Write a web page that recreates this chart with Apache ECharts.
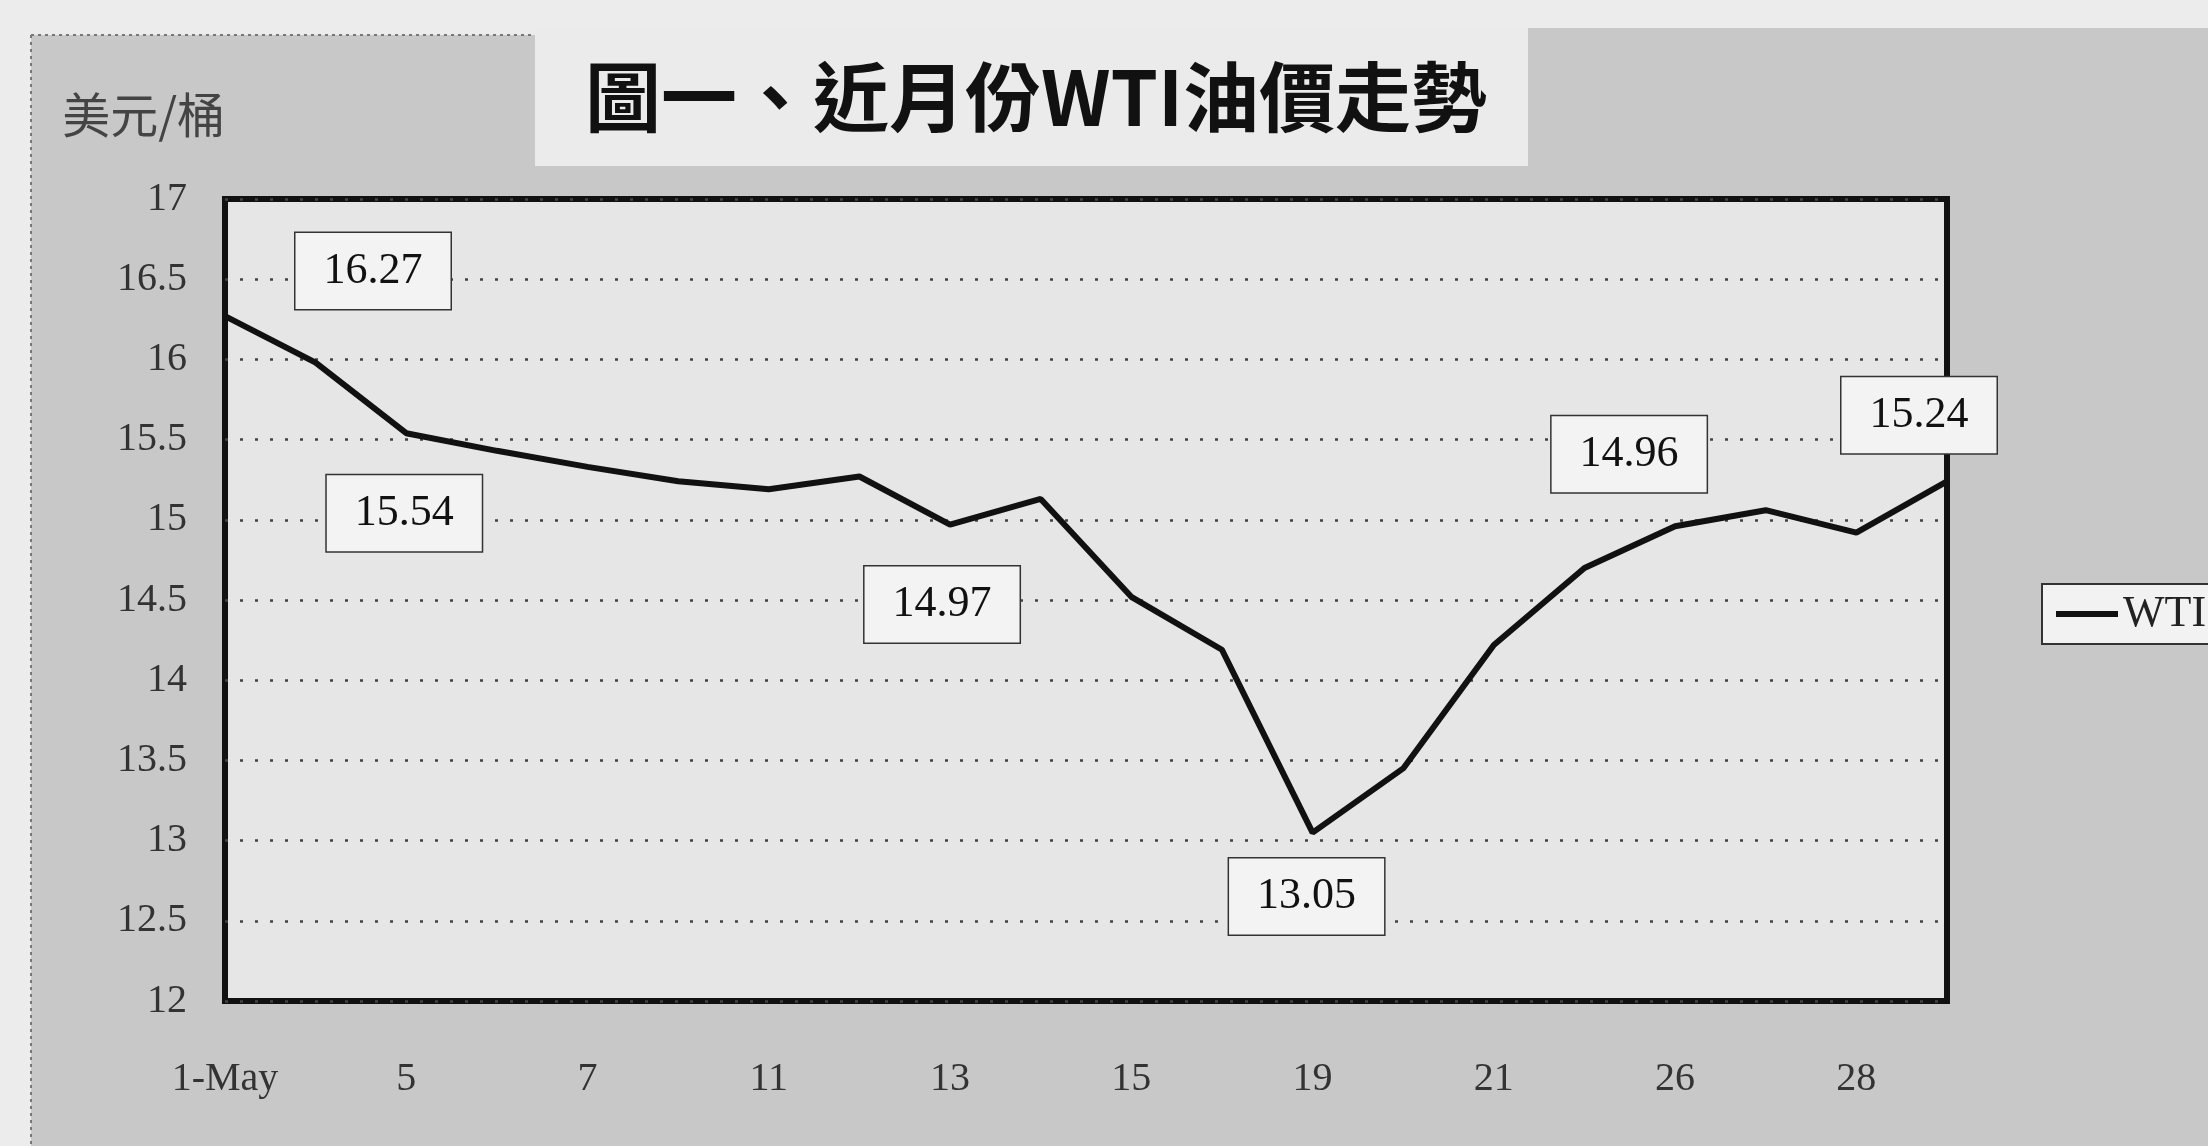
<!DOCTYPE html>
<html>
<head>
<meta charset="utf-8">
<script src="https://cdn.jsdelivr.net/npm/echarts@6/dist/echarts.min.js"></script>
<style>
html,body{margin:0;padding:0;background:#ececec;}
#c{width:2208px;height:1146px;}
</style>
</head>
<body>
<div id="c"></div>
<script>
// ---- data ----
const titleText = '圖一、近月份WTI油價走勢';
const yUnit = '美元/桶';
const seriesName = 'WTI';
const categories = ['1-May','4','5','6','7','8','11','12','13','14','15','18','19','20','21','22','26','27','28','29'];
const wti = [16.27,15.98,15.54,15.43,15.33,15.24,15.19,15.27,14.97,15.13,14.52,14.19,13.05,13.45,14.22,14.70,14.96,15.06,14.92,15.24];
const labeledIdx = [0,2,8,12,16,19];
const yMin = 12, yMax = 17, yStep = 0.5;

// ---- layout / style ----
const labelOffsets = {0:[148,-45],2:[-2,80],8:[-8,80],12:[-6,64],16:[-46,-72],19:[-28,-66]};
const serif = '"Liberation Serif","DejaVu Serif",serif';
const cjk = '"Noto Sans CJK TC","Noto Sans CJK SC",sans-serif';

const seriesData = wti.map((v,i)=>{
  if (labeledIdx.indexOf(i) < 0) return v;
  return {
    value: v,
    label: {
      show: true,
      position: 'inside',
      offset: labelOffsets[i],
      formatter: (p)=>Number(p.value).toFixed(2),
      fontFamily: serif,
      fontSize: 44,
      color: '#111',
      backgroundColor: '#f3f3f3',
      borderColor: '#333',
      borderWidth: 1.5,
      padding: [17, 28, 15, 28]
    }
  };
});

const chart = echarts.init(document.getElementById('c'));
chart.setOption({
  backgroundColor: '#ececec',
  animation: false,
  graphic: [
    {type:'rect', z:-10, shape:{x:31,y:35,width:2208,height:1146}, style:{fill:'#c8c8c8'}},
    {type:'rect', z:-10, shape:{x:1528,y:28,width:700,height:40}, style:{fill:'#c8c8c8'}},
    {type:'rect', z:-9, shape:{x:535,y:28,width:993,height:138}, style:{fill:'#ebebeb'}},
    {type:'line', z:-8, shape:{x1:31,y1:35,x2:535,y2:35}, style:{stroke:'#777',lineWidth:2,lineDash:[3,4]}},
    {type:'line', z:-8, shape:{x1:31,y1:35,x2:31,y2:1146}, style:{stroke:'#777',lineWidth:2,lineDash:[3,4]}}
  ],
  title: {
    text: titleText,
    left: 1031,
    top: 54,
    textAlign: 'center',
    textStyle: {fontFamily: cjk, fontSize: 76, fontWeight: 'bold', color: '#111'}
  },
  legend: {
    data: [seriesName],
    left: 2042,
    top: 584,
    orient: 'vertical',
    backgroundColor: '#f2f2f2',
    borderColor: '#333',
    borderWidth: 2,
    padding: [8, 60, 8, 14],
    icon: 'rect',
    itemWidth: 62,
    itemHeight: 6,
    textStyle: {fontFamily: serif, fontSize: 44, color: '#222', padding:[0,0,0,0]}
  },
  grid: {
    left: 225, right: 261, top: 199, bottom: 145,
    show: true,
    backgroundColor: '#e6e6e6',
    borderColor: '#111',
    borderWidth: 6
  },
  xAxis: {
    type: 'category',
    data: categories,
    boundaryGap: false,
    axisLine: {show: false},
    axisTick: {show: false},
    axisLabel: {interval: 1, margin: 58, fontFamily: serif, fontSize: 40, color: '#333'},
    splitLine: {show: false}
  },
  yAxis: {
    type: 'value',
    min: yMin, max: yMax, interval: yStep,
    name: yUnit,
    nameLocation: 'end',
    nameGap: 84,
    nameTextStyle: {fontFamily: cjk, fontSize: 48, color: '#444', align: 'right', verticalAlign: 'middle', padding: [0, 0, 0, 0]},
    axisLine: {show: false},
    axisTick: {show: false},
    axisLabel: {margin: 38, fontFamily: serif, fontSize: 40, color: '#333'},
    splitLine: {show: true, lineStyle: {color: '#444', width: 2.5, type: [3, 12]}}
  },
  series: [{
    name: seriesName,
    type: 'line',
    data: seriesData,
    symbol: 'circle',
    symbolSize: 1,
    showSymbol: true,
    showAllSymbol: true,
    lineStyle: {color: '#111', width: 6},
    itemStyle: {color: '#111'},
    z: 5
  }]
});
</script>
</body>
</html>
